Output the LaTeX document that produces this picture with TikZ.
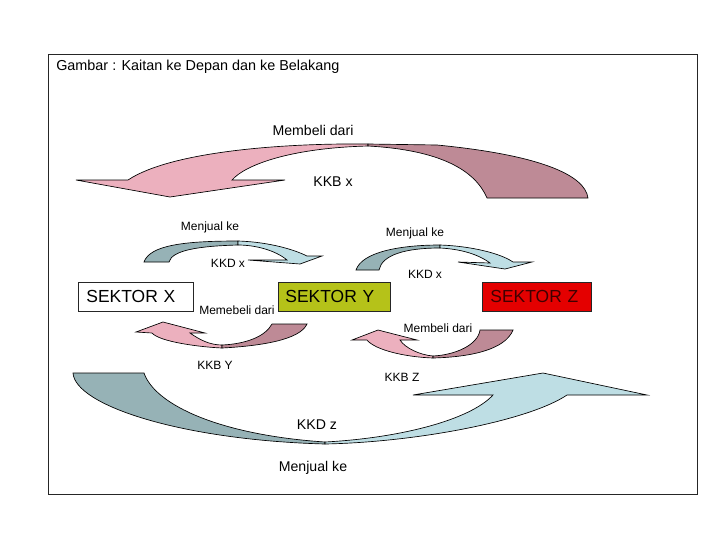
\documentclass[tikz,border=0pt]{standalone}
\usepackage{fontspec}
\setmainfont{Liberation Sans}
\usepackage{xcolor}

\definecolor{arrowpink}{RGB}{236,176,190}
\definecolor{arrowmauve}{RGB}{190,138,150}
\definecolor{arrowteal}{RGB}{150,178,182}
\definecolor{arrowblue}{RGB}{190,222,228}
\definecolor{sektorolive}{RGB}{181,194,25}
\definecolor{sektorred}{RGB}{228,0,0}

\begin{document}
\begin{tikzpicture}[
    x=0.75pt, y=-0.75pt,
    frame/.style={draw=black!85, line width=0.7pt},
    title/.style={inner sep=0pt, anchor=west, font=\fontsize{10.8}{13}\selectfont},
    biglbl/.style={inner sep=0pt, font=\fontsize{10.6}{13}\selectfont},
    lbl/.style={inner sep=0pt, font=\fontsize{9}{11}\selectfont},
    sektor/.style={rectangle, draw=black!85, line width=0.6pt, anchor=north west, minimum height=21.75pt, inner xsep=6pt, align=left, font=\fontsize{13.1}{15}\selectfont},
    pinkpart/.style={fill=arrowpink, draw=black, line width=0.5pt},
    mauvepart/.style={fill=arrowmauve, draw=black, line width=0.5pt},
    tealpart/.style={fill=arrowteal, draw=black, line width=0.5pt},
    bluepart/.style={fill=arrowblue, draw=black, line width=0.5pt}]

    \useasboundingbox (0,0) rectangle (720,540);
    \fill[white] (0,0) rectangle (720,540);

    % Frame and title
    \draw[frame] (48,54) rectangle (697,494);
    \node[title] (title) at (56,67) {Gambar : Kaitan ke Depan dan ke Belakang};

    % Top arrow: KKB x (Z buys from X)
    \draw[pinkpart] (368,144) .. controls (280,143) and (170,152) .. (128,180)
        -- (76,180) -- (170,197) -- (285,180) -- (232,180)
        .. controls (245,165) and (290,148) .. (368,146) -- cycle;
    \draw[mauvepart] (368,144) -- (437,145) .. controls (540,155) and (585,175) .. (588,198)
        -- (487,198) .. controls (475,170) and (440,150) .. (368,146) -- cycle;
    \node[biglbl] (belitop) at (313,130) {Membeli dari};
    \node[biglbl] (kkbx) at (333,182) {KKB x};

    % Small upper arrows: KKD x
    \draw[tealpart] (144,262) .. controls (150,245) and (185,241) .. (238,241)
        -- (238,245) .. controls (200,246) and (172,250) .. (169,262) -- cycle;
    \draw[bluepart] (238,241) .. controls (270,242) and (295,250) .. (307,256)
        -- (322,256) -- (300,264) -- (248,260) -- (287,260)
        .. controls (275,250) and (255,245) .. (238,245) -- cycle;
    \draw[tealpart] (356,270) .. controls (362,252) and (400,245) .. (440,245)
        -- (440,248) .. controls (405,248) and (382,255) .. (379,270) -- cycle;
    \draw[bluepart] (440,245) .. controls (470,246) and (500,253) .. (513,262)
        -- (532,262) -- (505,269) -- (458,262) -- (490,263)
        .. controls (478,254) and (460,249) .. (440,248) -- cycle;
    \node[lbl] (jualxy) at (210,227) {Menjual ke};
    \node[lbl] (jualyz) at (415,233) {Menjual ke};
    \node[lbl] (kkdxa) at (228,263) {KKD x};
    \node[lbl] (kkdxb) at (425,274) {KKD x};

    % Sectors
    \node[sektor, text width=74.25pt] (sx) at (78,282) {SEKTOR X};
    \node[sektor, fill=sektorolive, text width=73.5pt, inner xsep=5.25pt] (sy) at (278,282) {SEKTOR Y};
    \node[sektor, fill=sektorred, text width=69.75pt, text=black!75!red] (sz) at (482,282) {SEKTOR Z};

    % Small lower arrows: KKB Y, KKB Z
    \draw[pinkpart] (222,348) .. controls (200,347) and (160,342) .. (152,333)
        -- (136,332) -- (163,322) -- (205,333) -- (190,333)
        .. controls (200,340) and (210,345) .. (222,345) -- cycle;
    \draw[mauvepart] (222,348) .. controls (260,346) and (300,340) .. (307,324)
        -- (272,324) .. controls (265,337) and (245,344) .. (222,345) -- cycle;
    \draw[pinkpart] (433,358) .. controls (405,357) and (375,350) .. (367,340)
        -- (352,340) -- (378,330) -- (417,340) -- (400,340)
        .. controls (405,348) and (420,355) .. (433,356) -- cycle;
    \draw[mauvepart] (433,358) .. controls (470,357) and (505,350) .. (513,330)
        -- (480,330) .. controls (478,345) and (455,355) .. (433,356) -- cycle;
    \node[lbl] (beliyx) at (237,310) {Memebeli dari};
    \node[lbl] (belizy) at (438,328) {Membeli dari};
    \node[lbl] (kkby) at (215,365) {KKB Y};
    \node[lbl] (kkbz) at (402,377) {KKB Z};

    % Bottom arrow: KKD z (X sells to Z)
    \draw[tealpart] (73,373) -- (144,373) .. controls (155,405) and (220,435) .. (325,442)
        -- (325,444) .. controls (180,440) and (75,405) .. (73,373) -- cycle;
    \draw[bluepart] (325,444) .. controls (420,442) and (530,420) .. (567,395)
        -- (647,395) -- (543,373) -- (413,395) -- (493,395)
        .. controls (470,420) and (400,438) .. (325,442) -- cycle;
    \node[biglbl] (kkdz) at (317,425) {KKD z};
    \node[biglbl] (jualbot) at (313,468) {Menjual ke};
\end{tikzpicture}
\end{document}
